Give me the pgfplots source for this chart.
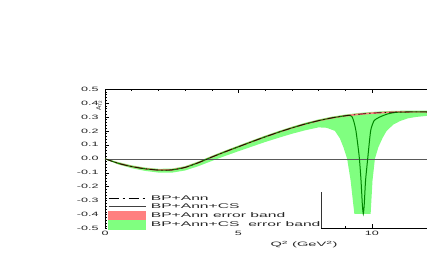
\documentclass[border=0pt]{standalone}
\usepackage{fontspec}
\setmainfont{Liberation Sans}
\newfontfamily\tickfont{Liberation Sans}[FakeStretch=2.0]
\newfontfamily\widefont{Liberation Sans}[FakeStretch=2.3]
\newfontfamily\legfont{Liberation Sans}[FakeStretch=2.31]
\usepackage{pgfplots}
\usepackage{pgfplotstable}
\pgfplotsset{compat=1.18}
\usepgfplotslibrary{fillbetween}
\definecolor{bandgreen}{RGB}{128,255,128}
\definecolor{bandred}{RGB}{255,128,128}
\definecolor{csgreen}{RGB}{0,135,0}

\pgfplotstableread{
Q v
0 0
0.5 -0.033
1.0 -0.056
1.5 -0.072
2.0 -0.081
2.5 -0.080
3.0 -0.062
3.5 -0.028
4.0 0.012
4.5 0.050
5.0 0.086
5.5 0.122
6.0 0.157
6.5 0.190
7.0 0.221
7.5 0.249
8.0 0.273
8.5 0.293
9.0 0.308
9.5 0.319
10.0 0.327
10.5 0.332
11.0 0.335
11.5 0.336
12.0 0.336
12.2 0.335
}\mainc

\pgfplotstableread{
Q lo hi
0 -0.001 0.001
0.5 -0.039 -0.027
1.0 -0.062 -0.050
1.5 -0.078 -0.066
2.0 -0.087 -0.075
2.5 -0.086 -0.074
3.0 -0.068 -0.056
3.5 -0.034 -0.022
4.0 0.006 0.018
4.5 0.044 0.056
5.0 0.080 0.092
5.5 0.116 0.128
6.0 0.151 0.163
6.5 0.184 0.196
7.0 0.215 0.227
7.5 0.243 0.255
8.0 0.267 0.279
8.5 0.287 0.299
9.0 0.302 0.314
9.5 0.313 0.325
10.0 0.321 0.333
10.5 0.326 0.338
11.0 0.329 0.341
11.5 0.330 0.342
12.0 0.330 0.342
12.2 0.329 0.341
}\redband

\pgfplotstableread{
Q v
0 0.002
0.5 -0.024
1.0 -0.047
1.5 -0.063
2.0 -0.072
2.5 -0.071
3.0 -0.053
3.5 -0.019
4.0 0.021
4.5 0.059
5.0 0.095
5.5 0.131
6.0 0.166
6.5 0.199
7.0 0.230
7.5 0.258
8.0 0.282
8.5 0.302
9.0 0.317
9.5 0.328
10.0 0.336
10.5 0.341
11.0 0.344
11.5 0.345
12.0 0.345
12.2 0.344
}\greenhi

\pgfplotstableread{
Q v
0 -0.002
0.5 -0.041
1.0 -0.068
1.5 -0.087
2.0 -0.099
2.5 -0.100
3.0 -0.084
3.5 -0.053
4.0 -0.016
4.5 0.020
5.0 0.054
5.5 0.087
6.0 0.120
6.5 0.150
7.0 0.179
7.5 0.204
8.0 0.225
8.3 0.222
8.61 0.200
8.8 0.145
8.93 0.083
9.07 0.000
9.2 -0.156
9.34 -0.395
9.95 -0.395
10.02 -0.156
10.11 0.000
10.24 0.083
10.4 0.150
10.55 0.200
10.8 0.245
11.05 0.270
11.35 0.290
11.67 0.300
12.2 0.310
}\greenlo

\pgfplotstableread{
Q v
0 0
0.5 -0.033
1.0 -0.056
1.5 -0.072
2.0 -0.081
2.5 -0.080
3.0 -0.062
3.5 -0.028
4.0 0.012
4.5 0.050
5.0 0.086
5.5 0.122
6.0 0.157
6.5 0.190
7.0 0.221
7.5 0.249
8.0 0.273
8.5 0.293
9.0 0.308
9.15 0.311
9.24 0.305
9.3 0.280
9.35 0.245
9.4 0.200
9.47 0.100
9.53 0.000
9.59 -0.156
9.64 -0.330
9.675 -0.395
9.71 -0.330
9.76 -0.156
9.84 0.000
9.95 0.200
10.07 0.270
10.2 0.290
10.36 0.305
10.6 0.322
10.92 0.333
11.5 0.336
12.0 0.336
12.2 0.335
}\csc

\begin{document}
\begin{tikzpicture}
\begin{axis}[
  at={(105bp,33.5bp)}, anchor=south west, scale only axis,
  width=325.7bp, height=139.5bp,
  xmin=0, xmax=12.2, ymin=-0.5, ymax=0.5,
  clip=false,
  axis line style={black, line width=0.5bp},
  xtick={0,5,10}, minor x tick num=4,
  ytick={-0.5,-0.4,...,0.51}, minor y tick num=4,
  tick align=inside,
  major tick length=4bp, minor tick length=2bp,
  every tick/.style={black, line width=0.4bp},
  yticklabel style={/pgf/number format/.cd, fixed, fixed zerofill, precision=1, /tikz/.cd, xshift=-3bp},
  /pgf/number format/assume math mode=true,
  ticklabel style={font=\tickfont\fontsize{6.3}{7}\selectfont, text=black!85},
  xticklabel style={yshift=1bp},
  xlabel={Q\textsuperscript{2} (GeV\textsuperscript{2})},
  xlabel style={at={(axis description cs:0.611,-0.115)}, anchor=center, font=\widefont\fontsize{6.4}{7}\selectfont, text=black!85},
  legend style={at={(axis description cs:0.009,-0.008)}, anchor=south west, draw=none, fill=none,
    font=\legfont\fontsize{6.8}{8}\selectfont, text=black!85, inner sep=0pt, row sep=-0.2bp,
    nodes={inner sep=0.3bp, text height=5bp, text depth=1bp},
    /tikz/every odd column/.append style={column sep=4.5bp}},
  legend cell align=left,
]
\addlegendimage{legend image code/.code={\path[draw=none,fill=none] (0bp,-4.3bp) rectangle (37bp,4.3bp); \draw[black, line width=0.8bp, dash pattern=on 10bp off 4bp on 2bp off 4bp] (0bp,0bp) -- (37bp,0bp);}}
\addlegendentry{BP+Ann}
\addlegendimage{legend image code/.code={\path[draw=none,fill=none] (0bp,-4.3bp) rectangle (37bp,4.3bp); \draw[black!75, line width=0.9bp] (0bp,0bp) -- (37bp,0bp);}}
\addlegendentry{BP+Ann+CS}
\addlegendimage{legend image code/.code={\fill[bandred] (0bp,-4.5bp) rectangle (37bp,4.5bp);}}
\addlegendentry{BP+Ann error band}
\addlegendimage{legend image code/.code={\fill[bandgreen] (0bp,-4.5bp) rectangle (37bp,4.5bp);}}
\addlegendentry{BP+Ann+CS\ \ error band}

\addplot[forget plot, name path=ghi, draw=none] table[x=Q,y=v] {\greenhi};
\addplot[forget plot, name path=glo, draw=none] table[x=Q,y=v] {\greenlo};
\addplot[forget plot, bandgreen] fill between[of=ghi and glo];
\addplot[forget plot, name path=rhi, draw=none] table[x=Q,y=hi] {\redband};
\addplot[forget plot, name path=rlo, draw=none] table[x=Q,y=lo] {\redband};
\addplot[forget plot, bandred] fill between[of=rhi and rlo];
\addplot[forget plot, black!65, line width=0.5bp] coordinates {(0,0) (12.2,0)};
\addplot[forget plot, csgreen, line width=1bp, smooth, tension=0.35] table[x=Q,y=v] {\csc};
\addplot[forget plot, black!70!red!60!black, line width=0.7bp, smooth, dash pattern=on 8bp off 3bp on 1.5bp off 3bp] table[x=Q,y=v] {\mainc};
\fill[white] (axis cs:0.06,-0.504) rectangle (axis cs:8.09,-0.262);
\draw[black!80, line width=0.4bp] (axis cs:8.09,-0.5) -- (axis cs:8.09,-0.235);
\node[rotate=90, font=\fontsize{6.5}{7}\selectfont, text=black!85] at (axis description cs:-0.018,0.88) {A\textsubscript{T2}};
\end{axis}
\pgfresetboundingbox
\useasboundingbox (0bp,0bp) rectangle (427bp,262bp);
\end{tikzpicture}
\end{document}
